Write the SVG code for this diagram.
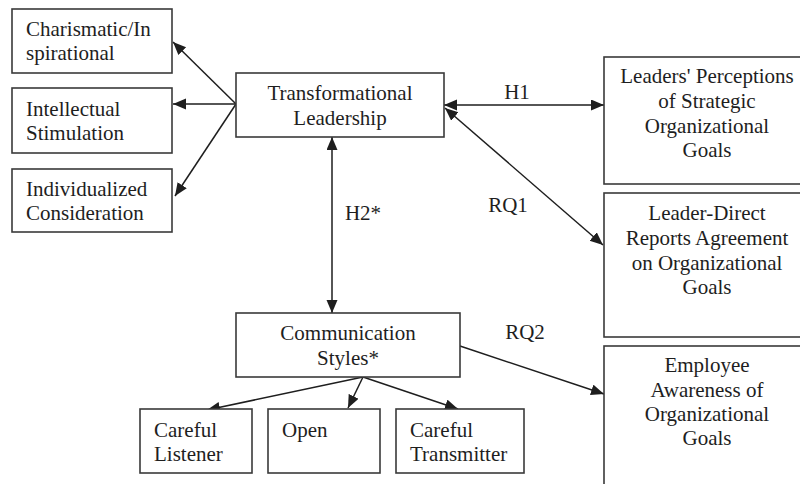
<svg xmlns="http://www.w3.org/2000/svg" width="800" height="484" viewBox="0 0 800 484">
<style>
.box{fill:#fff;stroke:#3a3a3a;stroke-width:1.6}
.t{font-family:"Liberation Serif","Times New Roman",serif;font-size:21px;fill:#1e1e1e}
.c{text-anchor:middle}
.ln{stroke:#1e1e1e;stroke-width:1.5;fill:none;marker-end:url(#ah)}
.bi{marker-start:url(#ah)}
</style>
<defs>
<marker id="ah" markerUnits="userSpaceOnUse" markerWidth="14" markerHeight="12" refX="13" refY="5.5" orient="auto-start-reverse">
<path d="M0,0 L13,5.5 L0,11 z" fill="#1e1e1e"/>
</marker>
</defs>
<rect width="800" height="484" fill="#fff"/>
<g id="connectors">
<line class="ln" x1="236" y1="104" x2="173" y2="42"/>
<line class="ln" x1="236" y1="104" x2="173" y2="104"/>
<line class="ln" x1="236" y1="104" x2="175" y2="196"/>
<line class="ln bi" x1="444" y1="105" x2="604" y2="105"/>
<line class="ln bi" x1="445" y1="108" x2="603" y2="245"/>
<line class="ln bi" x1="332" y1="137" x2="332" y2="313"/>
<line class="ln" x1="460" y1="346" x2="604" y2="394"/>
<line class="ln" x1="363" y1="377" x2="207" y2="410"/>
<line class="ln" x1="363" y1="377" x2="348" y2="408"/>
<line class="ln" x1="363" y1="377" x2="458" y2="409"/>
<text class="t c" x="517" y="99">H1</text>
<text class="t c" x="508" y="212">RQ1</text>
<text class="t c" x="363" y="220">H2*</text>
<text class="t c" x="525" y="339">RQ2</text>
</g>
<g id="charismatic">
<rect class="box" x="12" y="9" width="160" height="64"/>
<text class="t" x="26" y="36">Charismatic/In</text>
<text class="t" x="26" y="60">spirational</text>
</g>
<g id="intellectual">
<rect class="box" x="12" y="88" width="160" height="65"/>
<text class="t" x="26" y="116">Intellectual</text>
<text class="t" x="26" y="140">Stimulation</text>
</g>
<g id="individualized">
<rect class="box" x="12" y="169" width="160" height="63"/>
<text class="t" x="26" y="196">Individualized</text>
<text class="t" x="26" y="220">Consideration</text>
</g>
<g id="transformational">
<rect class="box" x="236" y="73" width="208" height="64"/>
<text class="t c" x="340" y="100">Transformational</text>
<text class="t c" x="340" y="125">Leadership</text>
</g>
<g id="communication">
<rect class="box" x="236" y="313" width="224" height="64"/>
<text class="t c" x="348" y="340">Communication</text>
<text class="t c" x="348" y="365">Styles*</text>
</g>
<g id="leaders-perceptions">
<rect class="box" x="604" y="57" width="210" height="127"/>
<text class="t c" x="707" y="83">Leaders' Perceptions</text>
<text class="t c" x="707" y="108">of Strategic</text>
<text class="t c" x="707" y="133">Organizational</text>
<text class="t c" x="707" y="157">Goals</text>
</g>
<g id="leader-direct">
<rect class="box" x="604" y="193" width="210" height="144"/>
<text class="t c" x="707" y="220">Leader-Direct</text>
<text class="t c" x="707" y="245">Reports Agreement</text>
<text class="t c" x="707" y="270">on Organizational</text>
<text class="t c" x="707" y="294">Goals</text>
</g>
<g id="employee-awareness">
<rect class="box" x="604" y="346" width="210" height="150"/>
<text class="t c" x="707" y="372">Employee</text>
<text class="t c" x="707" y="397">Awareness of</text>
<text class="t c" x="707" y="421">Organizational</text>
<text class="t c" x="707" y="445">Goals</text>
</g>
<g id="careful-listener">
<rect class="box" x="140" y="409" width="112" height="64"/>
<text class="t" x="154" y="437">Careful</text>
<text class="t" x="154" y="461">Listener</text>
</g>
<g id="open">
<rect class="box" x="268" y="409" width="112" height="64"/>
<text class="t" x="282" y="437">Open</text>
</g>
<g id="careful-transmitter">
<rect class="box" x="396" y="409" width="128" height="64"/>
<text class="t" x="410" y="437">Careful</text>
<text class="t" x="410" y="461">Transmitter</text>
</g>
</svg>
